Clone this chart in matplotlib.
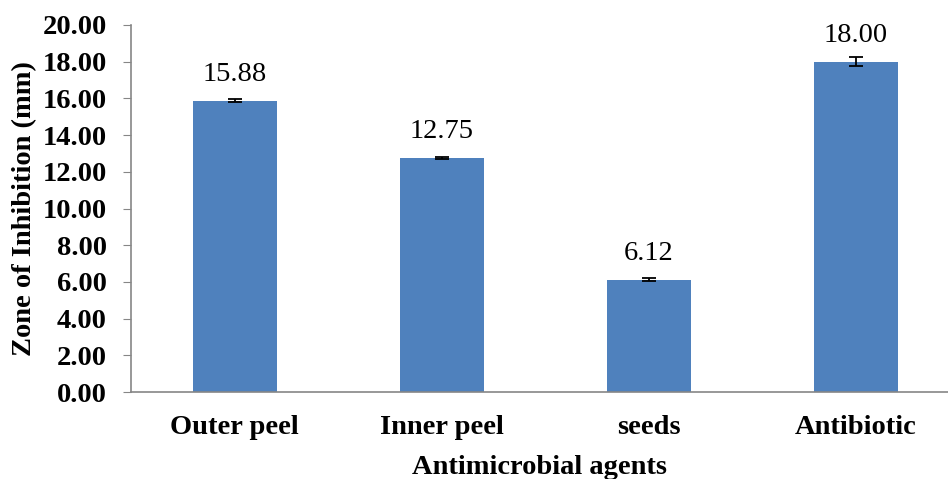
import numpy as np
import matplotlib.pyplot as plt

agents = ["Outer peel", "Inner peel", "seeds", "Antibiotic"]
zone = [15.88, 12.75, 6.12, 18.00]
err = [0.08, 0.05, 0.08, 0.25]
yticks = np.arange(0, 20.01, 2)

plt.rcParams['font.family'] = ['Liberation Serif', 'DejaVu Serif']

fig = plt.figure(figsize=(9.48, 4.79), dpi=100)
ax = fig.add_axes([131 / 948, 1 - 392 / 479, 1 - 131 / 948, (392 - 25) / 479])

x = np.arange(len(agents))
ax.bar(x, zone, width=0.406, color="#4F81BD", zorder=2)
ax.errorbar(x, zone, yerr=err, fmt="none", ecolor="black", elinewidth=1.3,
            capsize=5, capthick=1.3, zorder=3)
for xi, v in zip(x, zone):
    ax.text(xi, v + 0.75, f"{v:.2f}", ha="center", va="bottom", fontsize=20.5)

ax.set_xlim(-0.5, 3.444)
ax.set_ylim(0, 20)
ax.set_yticks(yticks)
ax.set_yticklabels([f"{t:.2f}" for t in yticks], fontsize=20.5, fontweight="bold")
ax.set_xticks(x)
ax.set_xticklabels(agents, fontsize=20.5, fontweight="bold")
ax.tick_params(axis="x", length=0, pad=16.5)
ax.tick_params(axis="y", length=5.5, color="#868686", pad=12)

for s in ["top", "right"]:
    ax.spines[s].set_visible(False)
for s in ["left", "bottom"]:
    ax.spines[s].set_color("#868686")
    ax.spines[s].set_linewidth(1.2)

ax.set_xlabel("Antimicrobial agents", fontsize=20.5, fontweight="bold", labelpad=11)
ax.set_ylabel("Zone of Inhibition (mm)", fontsize=20.5, fontweight="bold", labelpad=4)

fig.savefig("out.png", dpi=100)
